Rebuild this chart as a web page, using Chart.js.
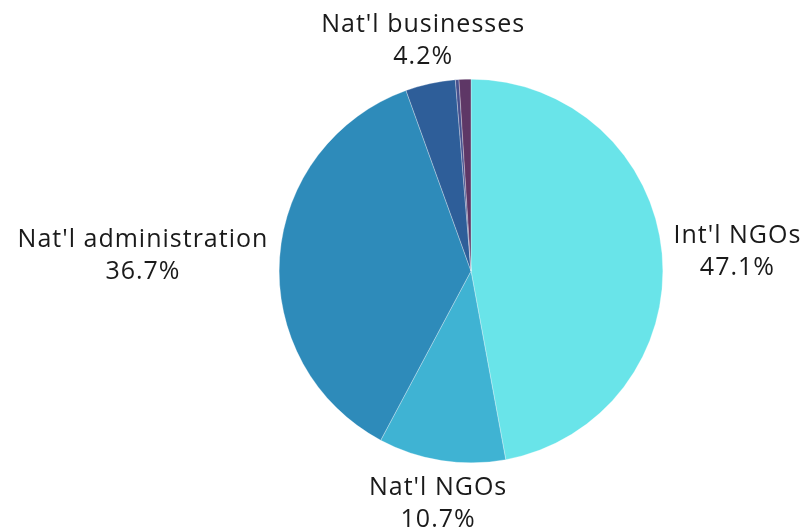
<!DOCTYPE html>
<html>
<head>
<meta charset="utf-8">
<script src="https://cdn.jsdelivr.net/npm/chart.js@4"></script>
<style>
  html, body { margin: 0; padding: 0; background: #fff; }
  #wrap { width: 809px; height: 531px; }
</style>
</head>
<body>
<div id="wrap"><canvas id="c" width="809" height="531"></canvas></div>
<script>
const LABELS = ["Int'l NGOs", "Nat'l NGOs", "Nat'l administration", "Nat'l businesses", "Other", "Other (2)"];
const VALUES = [47.1, 10.7, 36.7, 4.2, 0.3, 1.0];
const COLORS = ["#69e4e9", "#3fb3d3", "#2e8bba", "#2e5e99", "#46508e", "#5e3766"];
const SHOW_LABEL = [true, true, true, true, false, false];

// outside labels: name + percent, pushed off the arc by its mid angle
const outsideLabels = {
  id: "outsideLabels",
  afterDatasetsDraw(chart) {
    const ctx = chart.ctx;
    const meta = chart.getDatasetMeta(0);
    ctx.save();
    ctx.font = "25px 'Open Sans'";
    ctx.letterSpacing = "1px";
    ctx.fillStyle = "#1a1a1a";
    ctx.textAlign = "center";
    ctx.textBaseline = "middle";
    const lineH = 32;
    meta.data.forEach((arc, i) => {
      if (!SHOW_LABEL[i]) return;
      const { x, y, startAngle, endAngle, outerRadius } = arc.getProps(["x", "y", "startAngle", "endAngle", "outerRadius"], true);
      const mid = (startAngle + endAngle) / 2;
      const r = outerRadius + 12;
      const dx = Math.cos(mid), dy = Math.sin(mid);
      const px = x + dx * r, py = y + dy * r;
      const lines = [LABELS[i], VALUES[i].toFixed(1) + "%"];
      const w = Math.max(...lines.map(t => ctx.measureText(t).width));
      const h = lineH * lines.length;
      // near-vertical labels stay roughly centred on the anchor
      const cx = px + Math.sign(dx) * dx * dx * w / 2;
      const cy = py + Math.sign(dy) * dy * dy * h / 2;
      lines.forEach((t, k) => {
        ctx.fillText(t, cx, cy - h / 2 + lineH * (k + 0.5));
      });
    });
    ctx.restore();
  }
};

new Chart(document.getElementById("c"), {
  type: "pie",
  data: {
    labels: LABELS,
    datasets: [{
      data: VALUES,
      backgroundColor: COLORS,
      borderColor: "#ffffff",
      borderWidth: 0.3,
    }],
  },
  options: {
    responsive: false,
    animation: false,
    layout: { padding: { top: 79, bottom: 68, left: 279, right: 146 } },
    plugins: {
      legend: { display: false },
      tooltip: { enabled: false },
    },
  },
  plugins: [outsideLabels],
});
</script>
</body>
</html>
